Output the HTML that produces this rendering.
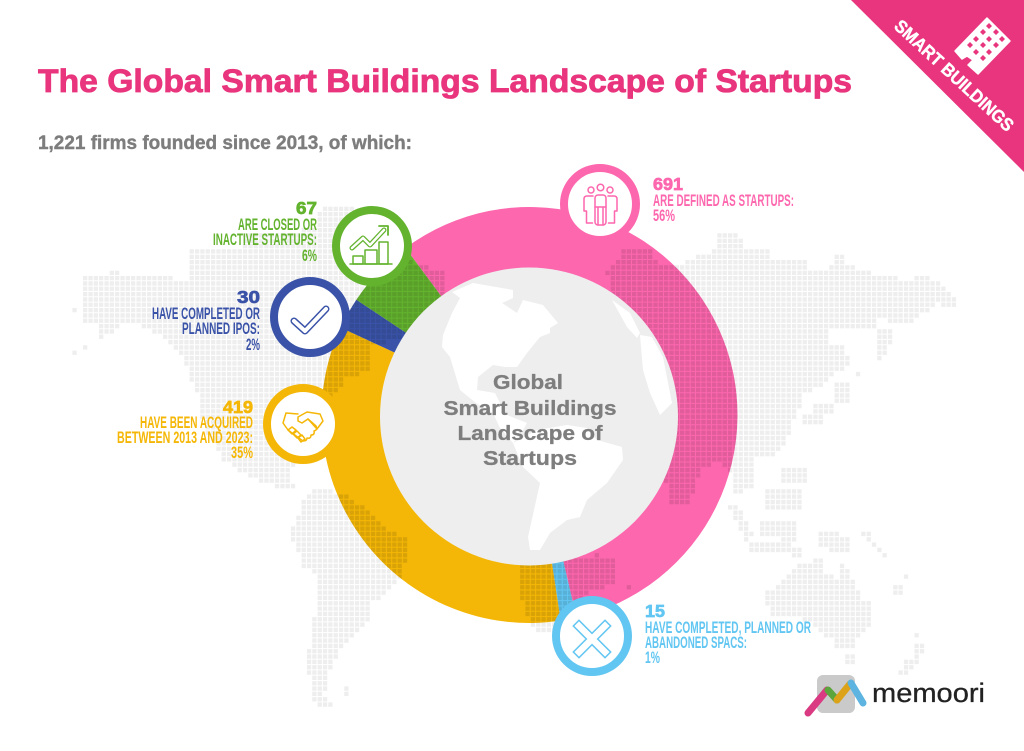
<!DOCTYPE html>
<html lang="en">
<head>
<meta charset="utf-8">
<title>The Global Smart Buildings Landscape of Startups</title>
<style>
html,body{margin:0;padding:0;background:#fff;width:1024px;height:751px;overflow:hidden}
svg{display:block}
text{font-family:"Liberation Sans",sans-serif}
.lbl{font-family:"Liberation Sans Narrow","Liberation Sans",sans-serif;font-weight:700;font-size:16.5px}
.num{font-weight:700;font-size:17.5px;stroke-width:.7px}
.ic{fill:none;stroke-linejoin:round;stroke-linecap:round}
</style>
</head>
<body>
<svg id="chart" xmlns="http://www.w3.org/2000/svg" width="1024" height="751" viewBox="0 0 1024 751">
<defs>
<clipPath id="ring-clip"><circle cx="529.5" cy="415" r="208"/></clipPath>
</defs>
<rect width="1024" height="751" fill="#fff"/>

<text x="38" y="92" font-size="32" font-weight="700" fill="#e9357d" stroke="#e9357d" stroke-width=".8" textLength="814" lengthAdjust="spacingAndGlyphs">The Global Smart Buildings Landscape of Startups</text>
<text x="38" y="149" font-size="19.5" font-weight="700" fill="#7d7d7d" stroke="#7d7d7d" stroke-width=".4" textLength="374" lengthAdjust="spacingAndGlyphs">1,221 firms founded since 2013, of which:</text>

<g>
<polygon points="851,0 1024,0 1024,172" fill="#e9357d"/>
<text transform="translate(950,80) rotate(42.7)" text-anchor="middle" font-size="18" font-weight="700" fill="#fff" stroke="#fff" stroke-width=".4" textLength="155" lengthAdjust="spacingAndGlyphs">SMART BUILDINGS</text>
<g>
<polygon points="987,18 1010,41 978,74 968,65 973,60 967,56 962,59 955,51" fill="#fff" stroke="#fff" stroke-width="1.5" stroke-linejoin="round"/>
<path fill="#e9357d" d="M989 23l3 3-3 3-3-3zM996 29l3 3-3 3-3-3zM1002 36l3 3-3 3-3-3zM983 29l3 3-3 3-3-3zM989 36l3 3-3 3-3-3zM996 42l3 3-3 3-3-3zM976 36l3 3-3 3-3-3zM983 42l3 3-3 3-3-3zM989 49l3 3-3 3-3-3zM970 42l3 3-3 3-3-3zM976 49l3 3-3 3-3-3zM983 55l3 3-3 3-3-3z"/>
</g>
</g>

<g id="ring"></g>
<path id="dots" fill="#eeeeee" style="mix-blend-mode:multiply"/>
<path id="dots-on-ring" fill="#f3f3f3" clip-path="url(#ring-clip)" style="mix-blend-mode:multiply"/>

<circle cx="529" cy="416.500" r="149" fill="#eeeeee"/>
<g fill="#fff">
<path d="M452 292L473 283L513 290L513 298L502 303L517 313L523 300L543 305L558 323L550 328L550 333L540 337L527 353L517 367L505 367L493 365L478 377L477 390L495 393L500 403L507 415L527 423L522 432L513 443L500 428L493 413L476 403L460 390L450 357L442 347L443 335L452 313L460 298Z"/>
<path d="M513 443L537 430L567 425L587 428L597 440L622 447L623 460L607 483L587 500L580 517L567 520L550 533L540 550L530 550L528 537L540 483L523 467Z"/>
<path d="M612 300L630 313L640 333L637 338L627 327Z"/>
<path d="M640 335L652 337L663 357L672 403L660 415L650 393L643 370Z"/>
</g>
<g font-size="20.5" font-weight="700" fill="#7e7e7e" stroke="#7e7e7e" stroke-width=".3" text-anchor="middle">
<text x="528" y="389" textLength="70" lengthAdjust="spacingAndGlyphs">Global</text>
<text x="530" y="415" textLength="173" lengthAdjust="spacingAndGlyphs">Smart Buildings</text>
<text x="530" y="440" textLength="145" lengthAdjust="spacingAndGlyphs">Landscape of</text>
<text x="530" y="465" textLength="94" lengthAdjust="spacingAndGlyphs">Startups</text>
</g>

<g>
<circle cx="600" cy="204" r="36" fill="#fff" stroke="#fd67ae" stroke-width="8"/>
<g class="ic" stroke="#fd67ae" stroke-width="1.5">
<circle cx="591" cy="190" r="3"/><circle cx="600.5" cy="187.5" r="3.3"/><circle cx="610" cy="190" r="3"/>
<path d="M593 196h-6q-3 0-3 3v12h2.5v12h6"/><path d="M608 196h6q3 0 3 3v12h-2.500v12h-6"/>
<rect x="595" y="195" width="11" height="30" rx="3" fill="#fff"/><path d="M598 207v18M603 207v18M595 207h11"/>
</g>
</g>
<g>
<circle cx="372" cy="246" r="36" fill="#fff" stroke="#63b32e" stroke-width="8"/>
<g class="ic" stroke="#63b32e" stroke-width="1.500">
<path d="M350 264h42"/><rect x="353" y="256" width="10" height="8"/><rect x="365" y="250" width="12" height="14"/><rect x="379" y="242" width="9" height="22"/>
<path d="M352 248L363 238L370 245L384 230" stroke-width="5"/><path d="M352 248L363 238L370 245L384 230" stroke="#fff" stroke-width="2.500"/>
<path d="M379 226h9v9" stroke-width="1.800"/>
</g>
</g>
<g>
<circle cx="310" cy="317" r="36" fill="#fff" stroke="#3a53a8" stroke-width="8"/>
<g class="ic">
<path d="M294 321L305 331L326 309" stroke="#3a53a8" stroke-width="7"/><path d="M294 321L305 331L326 309" stroke="#fff" stroke-width="4"/>
</g>
</g>
<g>
<circle cx="303" cy="424" r="36" fill="#fff" stroke="#f5b707" stroke-width="8"/>
<g class="ic" stroke="#f5b707" stroke-width="1.500">
<path d="M298 414L286 413L283 423L288 430L303 441Q307 441 307 438Q311 439 311 435Q315 435 314 431Q318 430 316 426L308 419"/>
<path d="M298 417L307 412L320 414L323 421L317 429L308 419L302 423L298 421Z"/>
<path d="M288 430L292 427L296 430L292 434ZM293 434L297 431L301 435L297 438ZM298 438L302 435L305 439L301 442Z"/>
</g>
</g>
<g>
<circle cx="592" cy="636" r="36" fill="#fff" stroke="#62c6f2" stroke-width="8"/>
<g class="ic">
<path d="M579 626L605 652M605 626L579 652" stroke="#62c6f2" stroke-width="9.500" style="stroke-linecap:square;stroke-linejoin:miter"/>
<path d="M579 626L605 652M605 626L579 652" stroke="#fff" stroke-width="6.500" style="stroke-linecap:square;stroke-linejoin:miter"/>
</g>
</g>

<g fill="#63b32e" text-anchor="end">
<text class="num" x="317" y="214" stroke="#63b32e" textLength="21" lengthAdjust="spacingAndGlyphs">67</text>
<text class="lbl" x="317" y="230" textLength="79" lengthAdjust="spacingAndGlyphs">ARE CLOSED OR</text>
<text class="lbl" x="317" y="245" textLength="104" lengthAdjust="spacingAndGlyphs">INACTIVE STARTUPS:</text>
<text class="lbl" x="317" y="261" textLength="15" lengthAdjust="spacingAndGlyphs">6%</text>
</g>
<g fill="#3a53a8" text-anchor="end">
<text class="num" x="260" y="303" stroke="#3a53a8" textLength="23" lengthAdjust="spacingAndGlyphs">30</text>
<text class="lbl" x="260" y="319" textLength="108" lengthAdjust="spacingAndGlyphs">HAVE COMPLETED OR</text>
<text class="lbl" x="260" y="334" textLength="78" lengthAdjust="spacingAndGlyphs">PLANNED IPOS:</text>
<text class="lbl" x="260" y="350" textLength="14" lengthAdjust="spacingAndGlyphs">2%</text>
</g>
<g fill="#f5b707" text-anchor="end">
<text class="num" x="253" y="413" stroke="#f5b707" textLength="30" lengthAdjust="spacingAndGlyphs">419</text>
<text class="lbl" x="253" y="428" textLength="113" lengthAdjust="spacingAndGlyphs">HAVE BEEN ACQUIRED</text>
<text class="lbl" x="253" y="443" textLength="136" lengthAdjust="spacingAndGlyphs">BETWEEN 2013 AND 2023:</text>
<text class="lbl" x="253" y="458" textLength="22" lengthAdjust="spacingAndGlyphs">35%</text>
</g>
<g fill="#fd67ae">
<text class="num" x="653" y="190" stroke="#fd67ae" textLength="30" lengthAdjust="spacingAndGlyphs">691</text>
<text class="lbl" x="653" y="206" textLength="141" lengthAdjust="spacingAndGlyphs">ARE DEFINED AS STARTUPS:</text>
<text class="lbl" x="653" y="221" textLength="22" lengthAdjust="spacingAndGlyphs">56%</text>
</g>
<g fill="#62c6f2">
<text class="num" x="645" y="617" stroke="#62c6f2" textLength="20" lengthAdjust="spacingAndGlyphs">15</text>
<text class="lbl" x="645" y="633" textLength="166" lengthAdjust="spacingAndGlyphs">HAVE COMPLETED, PLANNED OR</text>
<text class="lbl" x="645" y="648" textLength="102" lengthAdjust="spacingAndGlyphs">ABANDONED SPACS:</text>
<text class="lbl" x="645" y="663" textLength="15" lengthAdjust="spacingAndGlyphs">1%</text>
</g>

<g>
<rect x="817" y="675" width="38" height="38" rx="6" fill="#cacaca"/>
<g fill="none" stroke-width="7" stroke-linecap="round">
<path d="M808 713L827 690" stroke="#d93a82"/>
<path d="M828 690L837 700" stroke="#5ba53c"/>
<path d="M837 700L850 684" stroke="#dca31a"/>
<path d="M851 683L863 703" stroke="#5db4e0"/>
</g>
<text x="872" y="702" font-size="27" fill="#222" stroke="#222" stroke-width=".3" textLength="113" lengthAdjust="spacingAndGlyphs">memoori</text>
</g>
</svg>

<script>
// Chart data
const categories = ['Defined as startups', 'Completed, planned or abandoned SPACs', 'Acquired 2013-2023', 'Completed or planned IPOs', 'Closed or inactive'];
const firmCounts = [691, 15, 419, 30, 67];
const sliceColors = ['#fd67ae', '#62c6f2', '#f5b707', '#3a53a8', '#63b32e'];

// Outlines used only to decide which cells of the decorative dot grid are land
const landOutlines = [
 [[85,278],[108,278],[108,268],[118,268],[118,278],[160,276],[187,280],[190,247],[243,247],[243,232],[290,232],[318,228],[320,208],[352,208],[355,240],[378,262],[412,262],[443,272],[447,292],[425,318],[400,340],[372,345],[370,368],[345,380],[330,398],[318,395],[300,402],[285,425],[285,450],[300,462],[290,470],[296,492],[280,487],[250,478],[225,462],[205,430],[198,397],[188,370],[177,350],[158,335],[135,322],[120,322],[118,330],[100,338],[96,325],[85,325]],
 [[313,488],[343,493],[367,510],[383,527],[407,538],[410,550],[400,577],[393,587],[387,593],[373,603],[372,615],[360,630],[350,642],[338,653],[333,663],[328,680],[323,697],[333,702],[328,708],[320,708],[310,697],[308,652],[315,613],[318,577],[303,567],[298,550],[292,543],[292,527],[298,515],[303,500]],
 [[342,688],[351,688],[351,698],[342,698]],
 [[607,270],[622,255],[625,247],[652,247],[655,262],[680,265],[695,258],[715,250],[717,233],[738,233],[745,250],[770,248],[770,258],[808,260],[808,270],[830,272],[832,260],[860,270],[880,275],[905,280],[925,275],[935,280],[945,287],[950,292],[956,297],[956,306],[935,304],[928,312],[917,318],[910,322],[895,323],[880,318],[875,327],[830,328],[828,340],[826,345],[847,345],[848,365],[840,373],[828,375],[825,385],[810,392],[800,395],[805,405],[798,412],[792,420],[790,435],[785,442],[780,450],[770,458],[755,458],[755,485],[736,498],[730,470],[715,462],[700,470],[695,490],[690,505],[672,507],[660,460],[620,340]],
 [[522,560],[600,555],[618,560],[618,585],[590,590],[570,610],[553,633],[535,633],[522,600]],
 [[877,327],[891,327],[891,340],[882,360],[875,360]],
 [[832,383],[852,383],[850,403],[832,403]],
 [[815,405],[835,405],[835,412],[815,412]],
 [[800,416],[823,416],[823,423],[800,423]],
 [[833,253],[845,253],[845,267],[833,267]],
 [[783,467],[807,467],[807,483],[783,483]],
 [[765,490],[800,490],[800,508],[765,508]],
 [[728,505],[738,505],[756,538],[746,540]],
 [[757,518],[782,518],[782,535],[757,535]],
 [[783,518],[797,518],[797,540],[783,540]],
 [[750,543],[803,545],[803,557],[750,550]],
 [[817,530],[852,536],[852,555],[817,548]],
 [[767,592],[777,587],[788,575],[800,565],[823,558],[826,575],[838,577],[837,560],[845,565],[852,577],[857,587],[863,598],[869,603],[869,627],[862,632],[857,640],[852,648],[838,648],[832,640],[822,632],[813,622],[793,617],[772,617],[767,603]],
 [[843,656],[857,656],[857,664],[843,664]],
 [[912,645],[927,645],[927,652],[912,652]],
 [[898,672],[905,660],[917,656],[917,665],[905,676]],
 [[860,531],[866,531],[888,555],[884,557]],
 [[893,585],[901,585],[901,594],[893,594]]
];
const strayDots = [[75,310],[83,347],[77,353],[629,588],[860,375],[915,637],[905,577]];

const NS = 'http://www.w3.org/2000/svg';
const centerX = 529.5, centerY = 415, innerRadius = 147, outerRadius = 208, startDegrees = -36.6;
const total = firmCounts.reduce((a, b) => a + b, 0);
const angleOf = v => (startDegrees + v / total * 360) * Math.PI / 180;
const polar = (r, a) => [centerX + r * Math.sin(a), centerY - r * Math.cos(a)];

const ring = document.getElementById('ring');
let running = 0;
firmCounts.forEach((v, i) => {
  const a0 = angleOf(running), a1 = angleOf(running + v);
  running += v;
  const large = a1 - a0 > Math.PI ? 1 : 0;
  const p1 = polar(outerRadius, a0), p2 = polar(outerRadius, a1), p3 = polar(innerRadius, a1), p4 = polar(innerRadius, a0);
  const seg = document.createElementNS(NS, 'path');
  seg.setAttribute('d', `M${p1[0]} ${p1[1]}A${outerRadius} ${outerRadius} 0 ${large} 1 ${p2[0]} ${p2[1]}L${p3[0]} ${p3[1]}A${innerRadius} ${innerRadius} 0 ${large} 0 ${p4[0]} ${p4[1]}Z`);
  seg.setAttribute('fill', sliceColors[i]);
  
  
  const tip = document.createElementNS(NS, 'title');
  tip.textContent = categories[i] + ': ' + v;
  seg.appendChild(tip);
  ring.appendChild(seg);
});

function inside(pt, poly) {
  let c = false;
  for (let i = 0, j = poly.length - 1; i < poly.length; j = i++) {
    const xi = poly[i][0], yi = poly[i][1], xj = poly[j][0], yj = poly[j][1];
    if ((yi > pt[1]) !== (yj > pt[1]) && pt[0] < (xj - xi) * (pt[1] - yi) / (yj - yi) + xi) c = !c;
  }
  return c;
}
const pitch = 5.33, size = 4.3, gridX = 696, gridY = 260;
let d = '';
for (let k = -40; k <= 90; k++) {
  for (let m = -125; m <= 52; m++) {
    const x = gridX + m * pitch, y = gridY + k * pitch;
    const pt = [x + size / 2, y + size / 2];
    const hit = landOutlines.some(p => inside(pt, p)) || strayDots.some(s => Math.abs(s[0] - pt[0]) < pitch / 2 && Math.abs(s[1] - pt[1]) < pitch / 2);
    if (hit) d += `M${x.toFixed(1)} ${y.toFixed(1)}h${size}v${size}h-${size}z`;
  }
}
document.getElementById('dots').setAttribute('d', d);
document.getElementById('dots-on-ring').setAttribute('d', d);
</script>
</body>
</html>
